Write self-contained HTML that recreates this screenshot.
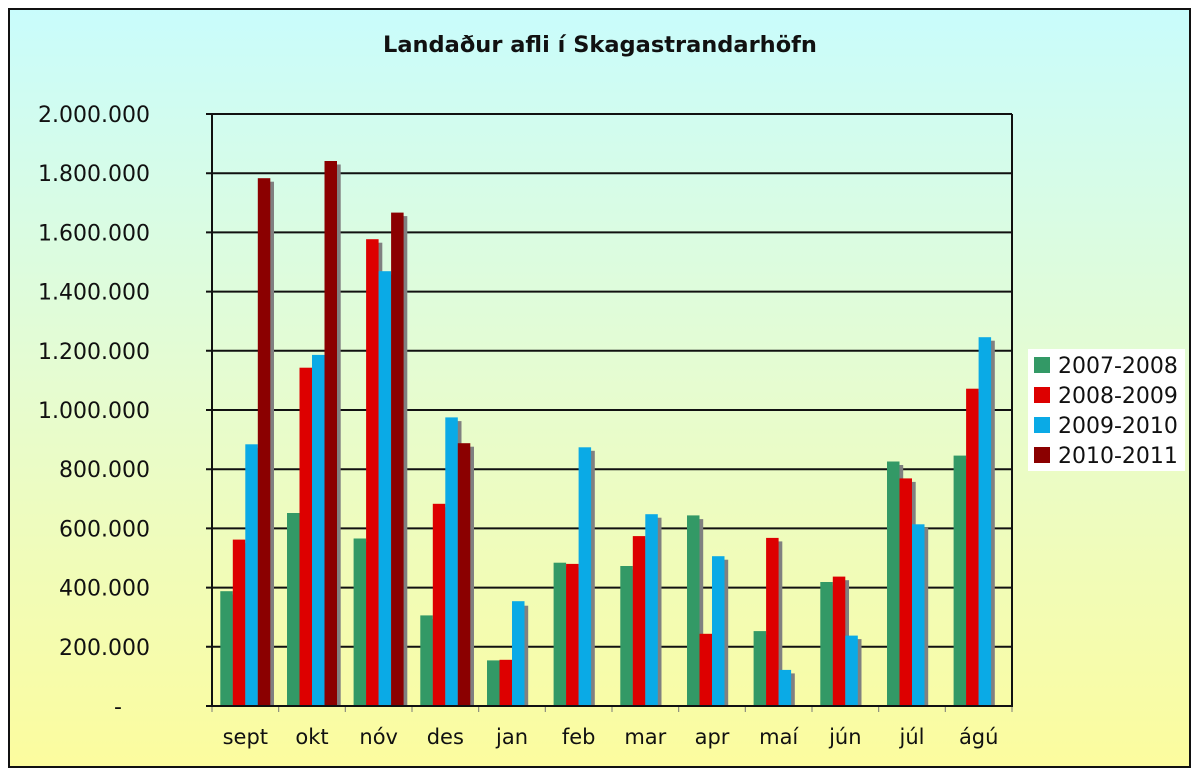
<!DOCTYPE html>
<html>
<head>
<meta charset="utf-8">
<style>
  html,body{margin:0;padding:0;background:#fff;}
  svg{display:block;}
  text{font-family:"DejaVu Sans","Liberation Sans",sans-serif;fill:#111;}
</style>
</head>
<body>
<svg width="1200" height="777" viewBox="0 0 1200 777" xmlns="http://www.w3.org/2000/svg">
  <defs>
    <linearGradient id="bg" x1="0" y1="0" x2="0" y2="1">
      <stop offset="0" stop-color="#c9fcfc"/>
      <stop offset="0.5" stop-color="#e6fcd0"/>
      <stop offset="1" stop-color="#fcfc9e"/>
    </linearGradient>
  </defs>
  <rect x="9" y="9" width="1181" height="758" fill="url(#bg)" stroke="#111" stroke-width="2"/>

  <text x="600" y="52" text-anchor="middle" font-weight="bold" font-size="22.5">Landaður afli í Skagastrandarhöfn</text>

  <!-- gridlines -->
  <g stroke="#111" stroke-width="2">
    <line x1="206" y1="114" x2="1012" y2="114"/>
    <line x1="206" y1="173.2" x2="1012" y2="173.2"/>
    <line x1="206" y1="232.4" x2="1012" y2="232.4"/>
    <line x1="206" y1="291.6" x2="1012" y2="291.6"/>
    <line x1="206" y1="350.8" x2="1012" y2="350.8"/>
    <line x1="206" y1="410" x2="1012" y2="410"/>
    <line x1="206" y1="469.2" x2="1012" y2="469.2"/>
    <line x1="206" y1="528.4" x2="1012" y2="528.4"/>
    <line x1="206" y1="587.6" x2="1012" y2="587.6"/>
    <line x1="206" y1="646.8" x2="1012" y2="646.8"/>
    <line x1="1012" y1="114" x2="1012" y2="706"/>
  </g>
  <!-- x ticks -->
  <g stroke="#777" stroke-width="1">
    <line x1="212" y1="706" x2="212" y2="712"/>
    <line x1="278.7" y1="706" x2="278.7" y2="712"/>
    <line x1="345.3" y1="706" x2="345.3" y2="712"/>
    <line x1="412" y1="706" x2="412" y2="712"/>
    <line x1="478.7" y1="706" x2="478.7" y2="712"/>
    <line x1="545.3" y1="706" x2="545.3" y2="712"/>
    <line x1="612" y1="706" x2="612" y2="712"/>
    <line x1="678.7" y1="706" x2="678.7" y2="712"/>
    <line x1="745.3" y1="706" x2="745.3" y2="712"/>
    <line x1="812" y1="706" x2="812" y2="712"/>
    <line x1="878.7" y1="706" x2="878.7" y2="712"/>
    <line x1="945.3" y1="706" x2="945.3" y2="712"/>
    <line x1="1012" y1="706" x2="1012" y2="712"/>
  </g>

  <g id="bars"></g>

  <!-- axes -->
  <g stroke="#111" stroke-width="2">
    <line x1="212" y1="113" x2="212" y2="707"/>
    <line x1="206" y1="706" x2="1013" y2="706"/>
  </g>

  <!-- y labels -->
  <g font-size="22" text-anchor="end">
    <text x="150" y="122">2.000.000</text>
    <text x="150" y="181.2">1.800.000</text>
    <text x="150" y="240.4">1.600.000</text>
    <text x="150" y="299.6">1.400.000</text>
    <text x="150" y="358.8">1.200.000</text>
    <text x="150" y="418">1.000.000</text>
    <text x="150" y="477.2">800.000</text>
    <text x="150" y="536.4">600.000</text>
    <text x="150" y="595.6">400.000</text>
    <text x="150" y="654.8">200.000</text>
    <text x="122" y="714">-</text>
  </g>

  <!-- x labels -->
  <g font-size="21" text-anchor="middle">
    <text x="245.3" y="744">sept</text>
    <text x="312" y="744">okt</text>
    <text x="378.7" y="744">nóv</text>
    <text x="445.3" y="744">des</text>
    <text x="512" y="744">jan</text>
    <text x="578.7" y="744">feb</text>
    <text x="645.3" y="744">mar</text>
    <text x="712" y="744">apr</text>
    <text x="778.7" y="744">maí</text>
    <text x="845.3" y="744">jún</text>
    <text x="912" y="744">júl</text>
    <text x="978.7" y="744">ágú</text>
  </g>

  <!-- legend -->
  <rect x="1028" y="349" width="157" height="122" fill="#fff"/>
  <rect x="1034" y="357" width="16" height="16" fill="#339966"/>
  <rect x="1034" y="387" width="16" height="16" fill="#dd0000"/>
  <rect x="1034" y="417" width="16" height="16" fill="#0aaae6"/>
  <rect x="1034" y="447" width="16" height="16" fill="#8b0000"/>
  <g font-size="22">
    <text x="1058" y="373">2007-2008</text>
    <text x="1058" y="403">2008-2009</text>
    <text x="1058" y="433">2009-2010</text>
    <text x="1058" y="463">2010-2011</text>
  </g>

  <!-- bars (shadows first, then bars) -->
  <g fill="#808080">
    <!-- sept -->
    <rect x="224" y="594.6" width="12.5" height="111.4"/>
    <rect x="236.5" y="543.1" width="12.5" height="162.9"/>
    <rect x="249" y="447.8" width="12.5" height="258.2"/>
    <rect x="261.5" y="181.7" width="12.5" height="524.3"/>
    <!-- okt -->
    <rect x="290.7" y="516.5" width="12.5" height="189.5"/>
    <rect x="303.2" y="371.2" width="12.5" height="334.8"/>
    <rect x="315.7" y="358.4" width="12.5" height="347.6"/>
    <rect x="328.2" y="164.5" width="12.5" height="541.5"/>
    <!-- nóv -->
    <rect x="357.3" y="542" width="12.5" height="164"/>
    <rect x="369.8" y="242.7" width="12.5" height="463.3"/>
    <rect x="382.3" y="274.7" width="12.5" height="431.3"/>
    <rect x="394.8" y="216.1" width="12.5" height="489.9"/>
    <!-- des -->
    <rect x="424" y="619" width="12.5" height="87"/>
    <rect x="436.5" y="507.3" width="12.5" height="198.7"/>
    <rect x="449" y="421.1" width="12.5" height="284.9"/>
    <rect x="461.5" y="446.7" width="12.5" height="259.3"/>
    <!-- jan -->
    <rect x="490.7" y="664.9" width="12.5" height="41.1"/>
    <rect x="503.2" y="664.3" width="12.5" height="41.7"/>
    <rect x="515.7" y="605.7" width="12.5" height="100.3"/>
    <!-- feb -->
    <rect x="557.3" y="566.2" width="12.5" height="139.8"/>
    <rect x="569.8" y="567.4" width="12.5" height="138.6"/>
    <rect x="582.3" y="450.8" width="12.5" height="255.2"/>
    <!-- mar -->
    <rect x="624" y="569.5" width="12.5" height="136.5"/>
    <rect x="636.5" y="539.6" width="12.5" height="166.4"/>
    <rect x="649" y="517.7" width="12.5" height="188.3"/>
    <!-- apr -->
    <rect x="690.7" y="519.1" width="12.5" height="186.9"/>
    <rect x="703.2" y="637.3" width="12.5" height="68.7"/>
    <rect x="715.7" y="559.7" width="12.5" height="146.3"/>
    <!-- maí -->
    <rect x="757.3" y="634.6" width="12.5" height="71.4"/>
    <rect x="769.8" y="541.4" width="12.5" height="164.6"/>
    <rect x="782.3" y="673.4" width="12.5" height="32.6"/>
    <!-- jún -->
    <rect x="824" y="585.5" width="12.5" height="120.5"/>
    <rect x="836.5" y="580.2" width="12.5" height="125.8"/>
    <rect x="849" y="639.1" width="12.5" height="66.9"/>
    <!-- júl -->
    <rect x="890.7" y="465" width="12.5" height="241"/>
    <rect x="903.2" y="481.9" width="12.5" height="224.1"/>
    <rect x="915.7" y="527.8" width="12.5" height="178.2"/>
    <!-- ágú -->
    <rect x="957.3" y="459.1" width="12.5" height="246.9"/>
    <rect x="969.8" y="392.2" width="12.5" height="313.8"/>
    <rect x="982.3" y="340.7" width="12.5" height="365.3"/>
  </g>

  <g>
    <!-- sept -->
    <rect x="220.3" y="591.2" width="12.5" height="114.8" fill="#339966"/>
    <rect x="232.8" y="539.6" width="12.5" height="166.4" fill="#dd0000"/>
    <rect x="245.3" y="444.3" width="12.5" height="261.7" fill="#0aaae6"/>
    <rect x="257.8" y="178.2" width="12.5" height="527.8" fill="#8b0000"/>
    <!-- okt -->
    <rect x="287" y="513" width="12.5" height="193" fill="#339966"/>
    <rect x="299.5" y="367.7" width="12.5" height="338.3" fill="#dd0000"/>
    <rect x="312" y="354.9" width="12.5" height="351.1" fill="#0aaae6"/>
    <rect x="324.5" y="161" width="12.5" height="545" fill="#8b0000"/>
    <!-- nóv -->
    <rect x="353.6" y="538.5" width="12.5" height="167.5" fill="#339966"/>
    <rect x="366.1" y="239.2" width="12.5" height="466.8" fill="#dd0000"/>
    <rect x="378.6" y="271.2" width="12.5" height="434.8" fill="#0aaae6"/>
    <rect x="391.1" y="212.6" width="12.5" height="493.4" fill="#8b0000"/>
    <!-- des -->
    <rect x="420.3" y="615.4" width="12.5" height="90.6" fill="#339966"/>
    <rect x="432.8" y="503.8" width="12.5" height="202.2" fill="#dd0000"/>
    <rect x="445.3" y="417.4" width="12.5" height="288.6" fill="#0aaae6"/>
    <rect x="457.8" y="443.2" width="12.5" height="262.8" fill="#8b0000"/>
    <!-- jan -->
    <rect x="487" y="660.4" width="12.5" height="45.6" fill="#339966"/>
    <rect x="499.5" y="659.8" width="12.5" height="46.2" fill="#dd0000"/>
    <rect x="512" y="601.2" width="12.5" height="104.8" fill="#0aaae6"/>
    <!-- feb -->
    <rect x="553.6" y="562.7" width="12.5" height="143.3" fill="#339966"/>
    <rect x="566.1" y="563.9" width="12.5" height="142.1" fill="#dd0000"/>
    <rect x="578.6" y="447.3" width="12.5" height="258.7" fill="#0aaae6"/>
    <!-- mar -->
    <rect x="620.3" y="566" width="12.5" height="140" fill="#339966"/>
    <rect x="632.8" y="536.1" width="12.5" height="169.9" fill="#dd0000"/>
    <rect x="645.3" y="514.2" width="12.5" height="191.8" fill="#0aaae6"/>
    <!-- apr -->
    <rect x="687" y="515.4" width="12.5" height="190.6" fill="#339966"/>
    <rect x="699.5" y="633.8" width="12.5" height="72.2" fill="#dd0000"/>
    <rect x="712" y="556.2" width="12.5" height="149.8" fill="#0aaae6"/>
    <!-- maí -->
    <rect x="753.6" y="631.1" width="12.5" height="74.9" fill="#339966"/>
    <rect x="766.1" y="537.9" width="12.5" height="168.1" fill="#dd0000"/>
    <rect x="778.6" y="669.9" width="12.5" height="36.1" fill="#0aaae6"/>
    <!-- jún -->
    <rect x="820.3" y="582" width="12.5" height="124" fill="#339966"/>
    <rect x="832.8" y="576.6" width="12.5" height="129.4" fill="#dd0000"/>
    <rect x="845.3" y="635.6" width="12.5" height="70.4" fill="#0aaae6"/>
    <!-- júl -->
    <rect x="887" y="461.5" width="12.5" height="244.5" fill="#339966"/>
    <rect x="899.5" y="478.4" width="12.5" height="227.6" fill="#dd0000"/>
    <rect x="912" y="524.3" width="12.5" height="181.7" fill="#0aaae6"/>
    <!-- ágú -->
    <rect x="953.6" y="455.6" width="12.5" height="250.4" fill="#339966"/>
    <rect x="966.1" y="388.7" width="12.5" height="317.3" fill="#dd0000"/>
    <rect x="978.6" y="337.2" width="12.5" height="368.8" fill="#0aaae6"/>
  </g>

  <!-- redraw axes on top -->
  <g stroke="#111" stroke-width="2">
    <line x1="212" y1="113" x2="212" y2="707"/>
    <line x1="206" y1="706" x2="1013" y2="706"/>
  </g>
</svg>
</body>
</html>
